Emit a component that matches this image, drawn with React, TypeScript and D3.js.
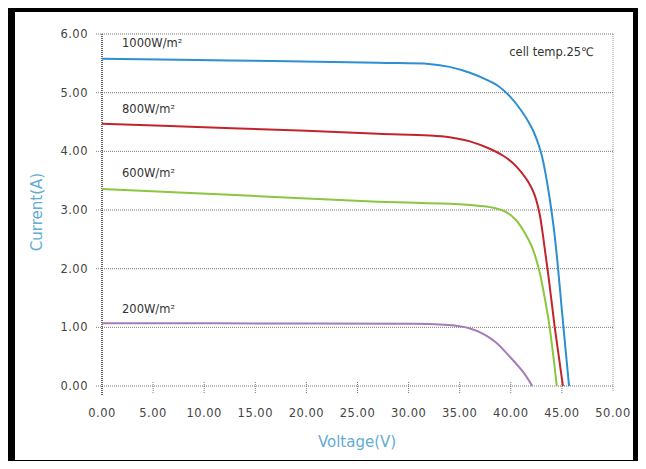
import React, { useRef, useEffect } from "react";
import { select, scaleLinear, line, curveCatmullRom, range } from "d3";

// I-V curves
const v1000 = [0, 12.5, 27, 32, 34, 36, 37.5, 38.8, 40, 41, 42, 42.5, 43, 43.4, 43.8, 44.2, 44.6, 45.1, 45.7];
const i1000 = [5.58, 5.55, 5.51, 5.49, 5.44, 5.34, 5.23, 5.11, 4.92, 4.7, 4.42, 4.22, 3.95, 3.62, 3.2, 2.7, 2.05, 1.1, 0];

const v800 = [0, 10, 20, 27, 32, 34, 36, 38, 39.3, 40.2, 41, 41.7, 42.3, 42.8, 43.2, 43.7, 44.3, 44.7, 45.1];
const i800 = [4.47, 4.41, 4.35, 4.3, 4.27, 4.24, 4.17, 4.04, 3.92, 3.8, 3.65, 3.48, 3.27, 2.95, 2.5, 1.85, 1.0, 0.5, 0];

const v600 = [0, 12.5, 27, 35, 37, 38.5, 39.5, 40.5, 41.3, 42.0, 42.5, 42.9, 43.3, 43.7, 44.1, 44.5];
const i600 = [3.36, 3.26, 3.14, 3.1, 3.07, 3.03, 2.97, 2.83, 2.63, 2.4, 2.15, 1.88, 1.52, 1.12, 0.6, 0];

const v200 = [0, 20, 30, 33, 34.5, 36, 37.3, 38.5, 39.9, 41.2, 42.1];
const i200 = [1.07, 1.065, 1.06, 1.05, 1.03, 0.98, 0.89, 0.75, 0.5, 0.24, 0];

const seriesNames = ["1000W/m²", "800W/m²", "600W/m²", "200W/m²"];
const seriesColors = ["#2b8fd1", "#c3242c", "#8cc63f", "#a67bb8"];
const labelCurrent = [5.85, 4.72, 3.63, 1.32];

const xTicks = range(0, 51, 5);
const yTicks = range(0, 7, 1);

function App() {
  const svgRef = useRef(null);

  useEffect(() => {
    const svg = select(svgRef.current);
    svg.selectAll("*").remove();

    const xScale = scaleLinear().domain([0, 50]).range([102, 613]);
    const yScale = scaleLinear().domain([0, 6]).range([386, 34]);
    const font = "'DejaVu Sans', sans-serif";

    // frame
    svg
      .append("rect")
      .attr("x", 11.5)
      .attr("y", 8.5)
      .attr("width", 625)
      .attr("height", 455)
      .attr("fill", "#fff")
      .attr("stroke", "#000")
      .attr("stroke-width", 7);

    // horizontal grid
    svg
      .selectAll(".grid")
      .data(yTicks)
      .join("line")
      .attr("class", "grid")
      .attr("x1", xScale(0) - 6)
      .attr("x2", xScale(50))
      .attr("y1", (d) => yScale(d))
      .attr("y2", (d) => yScale(d))
      .attr("stroke", "#777")
      .attr("stroke-width", 1)
      .attr("stroke-dasharray", "1,1");

    // right border of plot
    svg
      .append("line")
      .attr("x1", xScale(50))
      .attr("x2", xScale(50))
      .attr("y1", yScale(6))
      .attr("y2", yScale(0) + 5)
      .attr("stroke", "#999")
      .attr("stroke-dasharray", "1,1");

    // y axis
    svg
      .append("line")
      .attr("x1", xScale(0))
      .attr("x2", xScale(0))
      .attr("y1", yScale(6))
      .attr("y2", yScale(0) + 9)
      .attr("stroke", "#666")
      .attr("stroke-width", 2)
      .attr("stroke-dasharray", "1,1");

    // x ticks
    svg
      .selectAll(".xtick")
      .data(xTicks.slice(1, -1))
      .join("line")
      .attr("class", "xtick")
      .attr("x1", (d) => xScale(d))
      .attr("x2", (d) => xScale(d))
      .attr("y1", yScale(0) - 4)
      .attr("y2", yScale(0) + 7)
      .attr("stroke", "#777")
      .attr("stroke-dasharray", "1,1");

    svg
      .selectAll(".xlabel")
      .data(xTicks)
      .join("text")
      .attr("class", "xlabel")
      .attr("x", (d) => xScale(d))
      .attr("y", 417)
      .attr("text-anchor", "middle")
      .attr("font-family", font)
      .attr("font-size", 11.5)
      .attr("letter-spacing", 0.5)
      .attr("fill", "#444")
      .text((d) => d.toFixed(2));

    svg
      .selectAll(".ylabel")
      .data(yTicks)
      .join("text")
      .attr("class", "ylabel")
      .attr("x", 88)
      .attr("y", (d) => yScale(d) + 4)
      .attr("text-anchor", "end")
      .attr("font-family", font)
      .attr("font-size", 11.5)
      .attr("letter-spacing", 0.5)
      .attr("fill", "#444")
      .text((d) => d.toFixed(2));

    // curves
    const voltages = [v1000, v800, v600, v200];
    const currents = [i1000, i800, i600, i200];
    const curve = line()
      .x((d) => xScale(d[0]))
      .y((d) => yScale(d[1]))
      .curve(curveCatmullRom.alpha(0.5));

    voltages.forEach((vs, k) => {
      const pts = vs.map((v, j) => [v, currents[k][j]]);
      svg
        .append("path")
        .attr("d", curve(pts))
        .attr("fill", "none")
        .attr("stroke", seriesColors[k])
        .attr("stroke-width", 2);
    });

    svg
      .selectAll(".slabel")
      .data(seriesNames)
      .join("text")
      .attr("class", "slabel")
      .attr("x", 122)
      .attr("y", (d, k) => yScale(labelCurrent[k]) + 4)
      .attr("font-family", font)
      .attr("font-size", 11.5)
      .attr("fill", "#333")
      .text((d) => d);

    svg
      .append("text")
      .attr("x", 594)
      .attr("y", 56)
      .attr("text-anchor", "end")
      .attr("font-family", font)
      .attr("font-size", 11.5)
      .attr("fill", "#333")
      .text("cell temp.25℃");

    svg
      .append("text")
      .attr("x", 357)
      .attr("y", 447)
      .attr("text-anchor", "middle")
      .attr("font-family", font)
      .attr("font-size", 15)
      .attr("fill", "#62acd6")
      .text("Voltage(V)");

    svg
      .append("text")
      .attr("transform", "translate(42,212) rotate(-90)")
      .attr("text-anchor", "middle")
      .attr("font-family", font)
      .attr("font-size", 15)
      .attr("fill", "#62acd6")
      .text("Current(A)");
  }, []);

  return (
    <div style={{ margin: -8 }}>
      <svg ref={svgRef} width={646} height={469} style={{ display: "block" }}></svg>
    </div>
  );
}

export default App;
